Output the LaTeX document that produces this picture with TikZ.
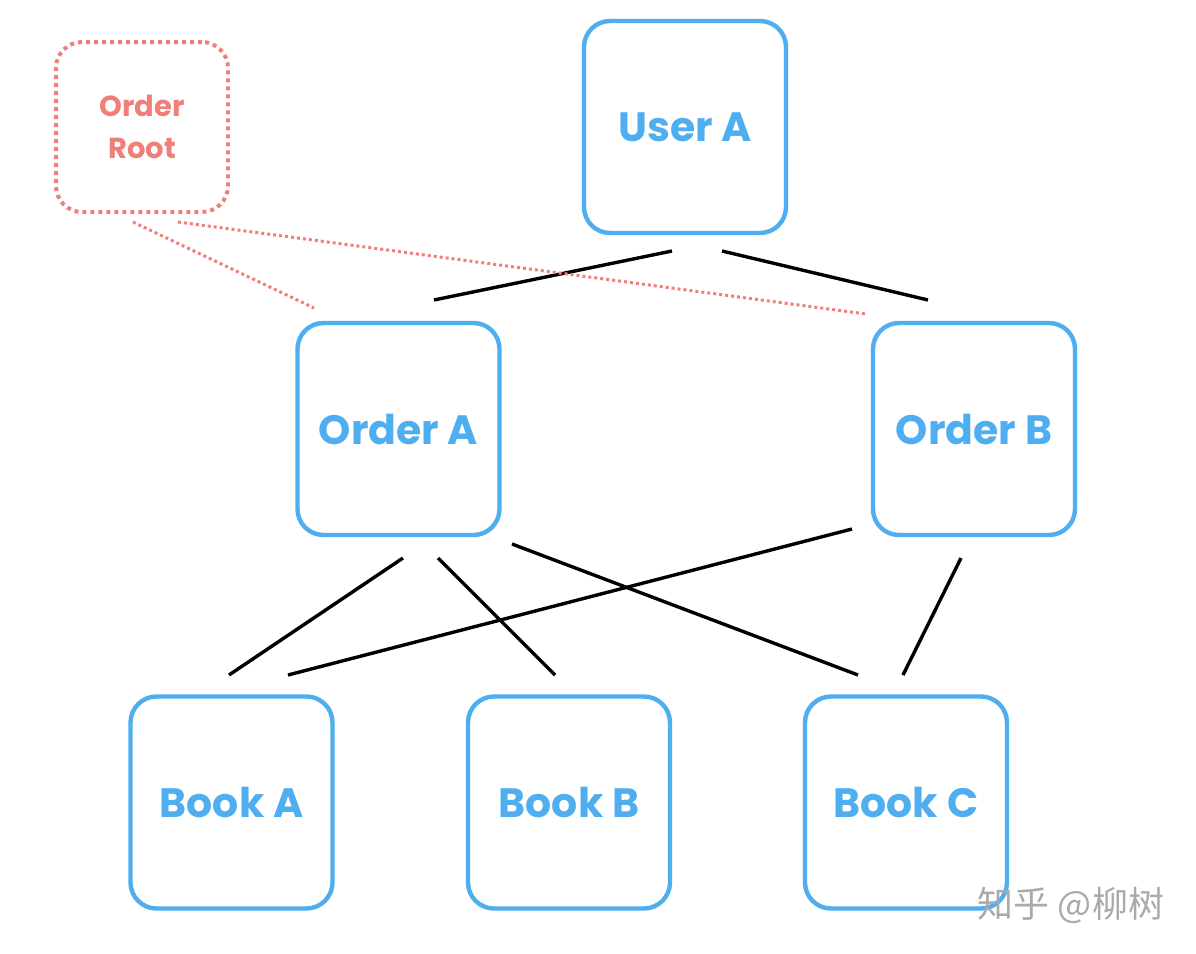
\documentclass[tikz,border=0pt]{standalone}
\usepackage{fontspec}
\setmainfont{Poppins}
\newfontfamily\cjk{Noto Sans CJK SC}
\definecolor{boxblue}{HTML}{4FAEF0}
\definecolor{rootred}{HTML}{F07F7A}
\definecolor{wmgray}{HTML}{AAAAAA}
\begin{document}
\begin{tikzpicture}[x=0.5pt,y=-0.5pt,
  entity/.style={draw=boxblue,line width=2.2pt,rounded corners=13pt,minimum width=101pt,minimum height=106pt,inner sep=0pt,text=boxblue,font=\fontsize{20.5}{24}\selectfont\bfseries},
  rootbox/.style={draw=rootred,line width=2pt,dash pattern=on 2pt off 2pt,rounded corners=13pt,minimum width=86pt,minimum height=85pt,inner sep=0pt,text=rootred,align=center,font=\fontsize{14.5}{21}\selectfont\bfseries},
  link/.style={black,line width=1.7pt},
  rootlink/.style={rootred,line width=1.5pt,dash pattern=on 1.5pt off 1.5pt}]
\useasboundingbox (0,0) rectangle (1196,954);
\fill[white] (0,0) rectangle (1196,954);
\node[entity] (userA) at (685,127) {User A};
\node[entity] (orderA) at (398.5,429) {Order A};
\node[entity] (orderB) at (974,429) {Order B};
\node[entity] (bookA) at (231.5,802.5) {Book A};
\node[entity] (bookB) at (569,802.5) {Book B};
\node[entity] (bookC) at (906,802.5) {Book C};
\node[rootbox] (root) at (142,127) {Order\\Root};
% connector end points
\coordinate (uA1) at (672,251); \coordinate (oA1) at (434,300);
\coordinate (uA2) at (722,251); \coordinate (oB1) at (928,300);
\coordinate (oA2) at (403,558); \coordinate (bA1) at (229,675);
\coordinate (oA3) at (438,558); \coordinate (bB1) at (555,675);
\coordinate (oA4) at (512,544); \coordinate (bC1) at (858,675);
\coordinate (oB2) at (852,529); \coordinate (bA2) at (288,675);
\coordinate (oB3) at (961,558); \coordinate (bC2) at (903,675);
\coordinate (r1) at (133,222); \coordinate (oA5) at (314,308);
\coordinate (r2) at (178,222); \coordinate (oB4) at (866,314);
\draw[link] (uA1) -- (oA1);
\draw[link] (uA2) -- (oB1);
\draw[link] (oA2) -- (bA1);
\draw[link] (oA3) -- (bB1);
\draw[link] (oA4) -- (bC1);
\draw[link] (oB2) -- (bA2);
\draw[link] (oB3) -- (bC2);
\draw[rootlink] (r1) -- (oA5);
\draw[rootlink] (r2) -- (oB4);
\node[text=wmgray,font=\cjk\fontsize{18}{20}\selectfont,anchor=center] (wm) at (1071,905) {知乎 @柳树};
\end{tikzpicture}
\end{document}
